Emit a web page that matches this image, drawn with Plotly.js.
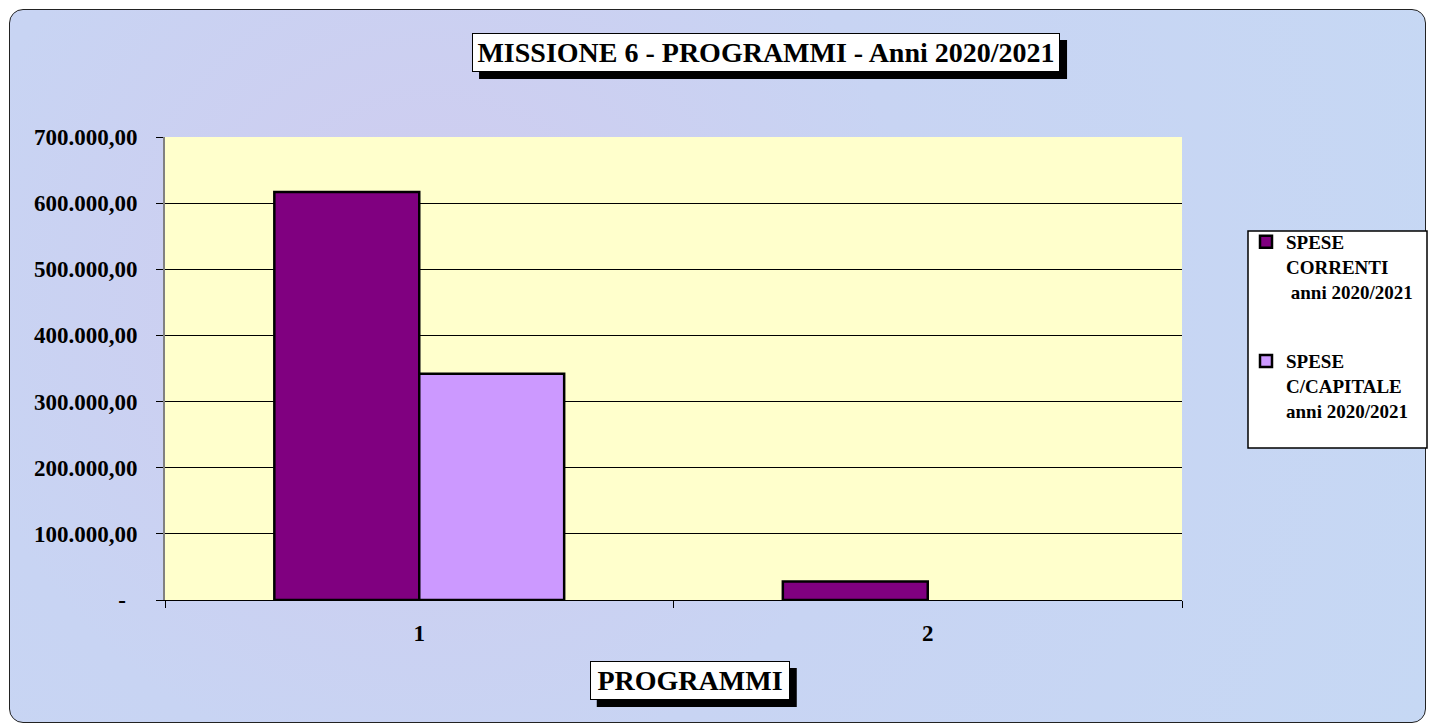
<!DOCTYPE html>
<html>
<head>
<meta charset="utf-8">
<script src="https://cdn.plot.ly/plotly-3.0.1.min.js"></script>
<style>
  html, body { margin: 0; padding: 0; background: #ffffff; }
  #wrap { position: absolute; left: 0; top: 0; width: 1430px; height: 726px; }
  #frame { position: absolute; left: 9px; top: 9px; width: 1417px; height: 714px;
           border: 1px solid #222; border-radius: 14px; box-sizing: border-box;
           background: radial-gradient(circle at 30% 40%, #d0cbef 0%, #c8d4f3 45%, #c6d8f4 100%); }
  #chart { position: absolute; left: 0; top: 0; width: 1430px; height: 726px; }
</style>
</head>
<body>
<div id="wrap">
  <div id="frame"></div>
  <div id="chart"></div>
</div>
<script>
const categories = ['1', '2'];
const seriesNames = ['SPESE<br>CORRENTI<br> anni 2020/2021', 'SPESE<br>C/CAPITALE<br>anni 2020/2021'];
const speseCorrenti = [617000, 28000];
const speseCapitale = [342000, 0];
const yTickVals = [0, 100000, 200000, 300000, 400000, 500000, 600000, 700000];
const yTickText = ['-\u00a0\u00a0', '100.000,00', '200.000,00', '300.000,00', '400.000,00', '500.000,00', '600.000,00', '700.000,00'];
const chartTitle = 'MISSIONE 6 - PROGRAMMI - Anni 2020/2021';
const xTitle = 'PROGRAMMI';

const serif = 'Liberation Serif, Times New Roman, serif';

const traces = [
  { type: 'bar', name: seriesNames[0], x: categories, y: speseCorrenti, legendgroup: 'a',
    marker: { color: '#800080', line: { color: '#000', width: 2.5 } } },
  { type: 'bar', name: seriesNames[1], x: categories, y: speseCapitale, legendgroup: 'b',
    marker: { color: '#cc99ff', line: { color: '#000', width: speseCapitale.map(v => v > 0 ? 2.5 : 0) } } }
];

// boxed title: white box annotation + black pixel-sized shadow shape behind it
function boxedTitle(text, x, y, size, w, h) {
  return { text: text, xref: 'paper', yref: 'paper', x: x, y: y,
    xanchor: 'center', yanchor: 'middle', showarrow: false,
    width: w, height: h, borderpad: 4, borderwidth: 1,
    bgcolor: '#fff', bordercolor: '#000',
    font: { family: serif, size: size, color: '#000', weight: 'bold' } };
}
function shadow(x, y, w, h, off) {
  const hw = (w + 10) / 2, hh = (h + 10) / 2;
  return { type: 'rect', xref: 'paper', yref: 'paper', layer: 'above',
    xsizemode: 'pixel', ysizemode: 'pixel', xanchor: x, yanchor: y,
    x0: -hw + off, x1: hw + off, y0: -hh - off, y1: hh - off,
    fillcolor: '#000', line: { width: 0 } };
}

const layout = {
  width: 1430, height: 726,
  margin: { l: 165, r: 248, t: 137, b: 126 },
  paper_bgcolor: 'rgba(0,0,0,0)',
  plot_bgcolor: '#ffffcc',
  barmode: 'group',
  bargap: 0.43,
  bargroupgap: 0,
  showlegend: true,
  legend: {
    xref: 'container', yref: 'container',
    x: 1246 / 1430, xanchor: 'left', y: 1 - 223 / 726, yanchor: 'top',
    bgcolor: 'rgba(0,0,0,0)', borderwidth: 0,
    font: { family: serif, size: 19, color: '#000', weight: 'bold' },
    tracegroupgap: 42, itemwidth: 30, valign: 'top'
  },
  xaxis: {
    type: 'category',
    tickson: 'boundaries', ticks: 'outside', ticklen: 7, tickcolor: '#000',
    showline: true, linecolor: '#000', linewidth: 1,
    showgrid: false,
    ticklabelstandoff: 12,
    tickfont: { family: serif, size: 23, color: '#000', weight: 'bold' }
  },
  yaxis: {
    range: [0, 700000],
    tickvals: yTickVals, ticktext: yTickText,
    ticks: 'outside', ticklen: 7, tickcolor: '#000',
    showline: true, linecolor: '#808080', linewidth: 2,
    showgrid: true, gridcolor: '#000', gridwidth: 1,
    zeroline: false,
    ticklabelstandoff: 14,
    tickfont: { family: serif, size: 23, color: '#000', weight: 'bold' }
  },
  shapes: [
    shadow(0.591, 1.1825, 578, 29, 7),
    shadow(0.516, -0.174, 190, 29, 7),
    // legend box
    { type: 'rect', xref: 'paper', yref: 'paper', layer: 'below',
      x0: (1248 - 165) / 1017, x1: (1427 - 165) / 1017,
      y0: (600 - 448) / 463, y1: (600 - 231) / 463,
      fillcolor: '#fff', line: { color: '#000', width: 1.5 } }
  ],
  annotations: [
    boxedTitle(chartTitle, 0.591, 1.1825, 28, 578, 29),
    boxedTitle(xTitle, 0.516, -0.174, 28, 190, 29)
  ]
};

Plotly.newPlot('chart', traces, layout, { displayModeBar: false, staticPlot: true });
</script>
</body>
</html>
